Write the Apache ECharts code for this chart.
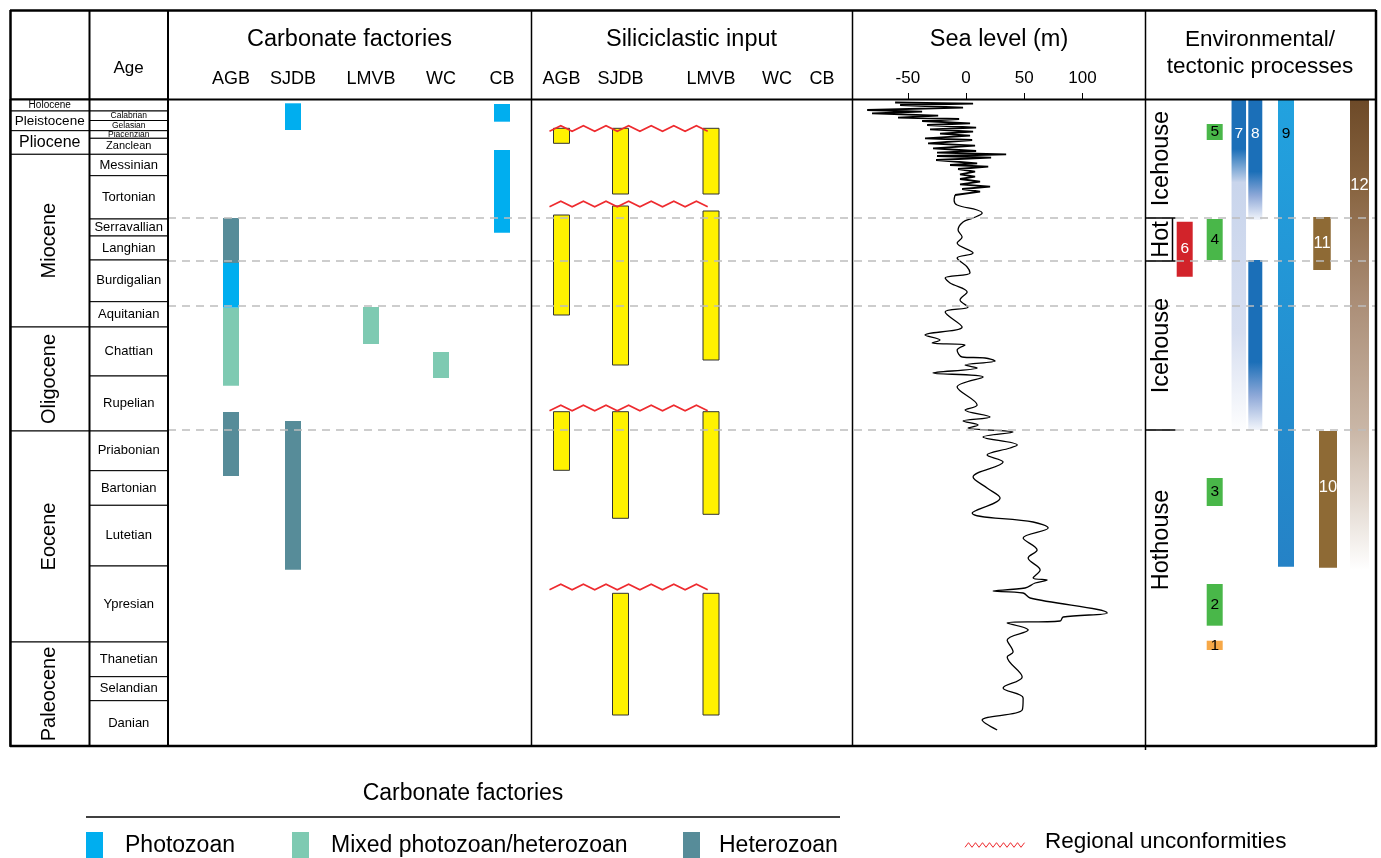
<!DOCTYPE html>
<html>
<head>
<meta charset="utf-8">
<script src="https://cdn.jsdelivr.net/npm/echarts@6/dist/echarts.min.js"></script>
<style>
  html, body { margin: 0; padding: 0; background: #fff; }
  #chart { width: 1381px; height: 858px; }
</style>
</head>
<body>
<div id="chart"></div>
<script>
/* ================================================================
   Cenozoic stratigraphic chart — carbonate factories, siliciclastics,
   sea level and environmental/tectonic processes
   Vertical axis = the figure's own (non-linear) time scale, measured
   as depth below the top of the columns (0 = present, 647 = base Danian)
   ================================================================ */

/* ===== data ===== */
const epochs = [
    ["Holocene", 0, 12], ["Pleistocene", 12, 31.7], ["Pliocene", 31.7, 55.3],
    ["Miocene", 55.3, 228], ["Oligocene", 228, 332], ["Eocene", 332, 543], ["Paleocene", 543, 647],
];
const stages = [
    ["", 0, 12], ["Calabrian", 12, 21.5], ["Gelasian", 21.5, 31.7], ["Piacenzian", 31.7, 39.3],
    ["Zanclean", 39.3, 55.3], ["Messinian", 55.3, 76.7], ["Tortonian", 76.7, 120],
    ["Serravallian", 120, 137], ["Langhian", 137, 161], ["Burdigalian", 161, 202.7],
    ["Aquitanian", 202.7, 228], ["Chattian", 228, 277], ["Rupelian", 277, 332],
    ["Priabonian", 332, 371.7], ["Bartonian", 371.7, 406.3], ["Lutetian", 406.3, 467],
    ["Ypresian", 467, 543], ["Thanetian", 543, 577.7], ["Selandian", 577.7, 601.7], ["Danian", 601.7, 647],
];
const basins = ["AGB", "SJDB", "LMVB", "WC", "CB"];
const factories = ["Photozoan", "Mixed photozoan/heterozoan", "Heterozoan"];

// [basin, factory, top, base]
const carbonate = [
    ["SJDB", "Photozoan", 4.3, 31], ["CB", "Photozoan", 5, 22.7], ["CB", "Photozoan", 51, 133.7],
    ["AGB", "Heterozoan", 119, 164], ["AGB", "Photozoan", 164, 208.7],
    ["AGB", "Mixed photozoan/heterozoan", 208.7, 286.7], ["AGB", "Heterozoan", 313, 377],
    ["SJDB", "Heterozoan", 322, 470.7],
    ["LMVB", "Mixed photozoan/heterozoan", 208, 245], ["WC", "Mixed photozoan/heterozoan", 253, 279],
];
// [basin, top, base]
const siliciclastic = [
    ["AGB", 29.3, 44.3], ["SJDB", 29.3, 95], ["LMVB", 29.3, 95],
    ["AGB", 116, 216], ["SJDB", 107, 266], ["LMVB", 112, 261],
    ["AGB", 312.7, 371.3], ["SJDB", 312.7, 419.3], ["LMVB", 312.7, 415.3],
    ["SJDB", 494.3, 616], ["LMVB", 494.3, 616],
];
const unconformities = [29.5, 105, 309, 488];
const dashedDepths = [119, 162, 207, 331];

// sea level (m): [depth, metres]
const seaLevelTicks = [-50, 0, 50, 100];
const seaLevelGlacial = [
    [3.5, -61], [4.7, 6], [6, -56.7], [8.7, -2.6], [11, -85], [12.7, -37.8], [14.3, -80.8],
    [16.7, -24], [18.7, -58.5], [20, -6], [22, -37.8], [24.3, 3.4], [26, -33.5], [28.7, 8.6],
    [30.3, -31], [32.7, 6], [34.7, -22.4], [36.7, 3.4], [39.3, -35.3], [41, 5.2], [44.3, -32.7],
    [46.7, 7.7], [49.3, -28.4], [52, 8.6], [53.7, -25], [55.3, 34.4], [57, -25], [58.7, 21.5],
    [61, -25.8], [64.3, 9.5], [66, -13.8], [67.7, 19], [70, -6.9], [72.7, 7.7], [75.3, -5.2],
    [77.7, 7.7], [80, -5.2], [82.7, 12], [85.3, -5.2], [87.7, 20.6], [90, -3.4], [92.7, 12], [96, -9.5],
];
const seaLevelOlder = [
    [96, -9.5], [101, -10.3], [106, -7.7], [111, 9.5], [114, 13.8], [119, 6], [123, -2.6],
    [131, -6.9], [138, -3.4], [144, -7.7], [154, 6], [159, -7.7], [168, 0.9], [174, 3.4],
    [179, -18], [184, -13.8], [193, 0.9], [201, -5.2], [208, 1.7], [213, -18], [228, -3.4],
    [236, -35.3], [241, -22.4], [244, -29.2], [246, -0.9], [251, -7.7], [258, -3.4], [259, 16.3],
    [262, 24.9], [266, -0.9], [269, 9.5], [274, -28.4], [278, 14.6], [288, -7.7], [306, 9.5],
    [311, -0.9], [318, 20.6], [322, -2.6], [326, 10.3], [329, 1.7], [333, 40.4], [338, 14.6],
    [346, 43.9], [349, 37.8], [356, 18], [363, 31.8], [378, 6], [389, 18], [399, 29.2],
    [414, 5.2], [423, 57.6], [429, 70.5], [439, 49], [451, 61], [459, 53.3], [471, 63.6],
    [479, 57.6], [481, 69.6], [484, 59.3], [489, 50.7], [492, 23.2], [494, 49], [499, 55],
    [514, 121.2], [518, 83.4], [522, 80.8], [524, 35.3], [531, 53.3], [541, 35.3], [553, 40.4],
    [558, 35.3], [578, 48.2], [589, 31.8], [599, 49], [611, 48.2], [621, 13.8], [631, 26.7],
];

// environmental / tectonic processes: [label, top, base]
const processes = [
    ["1", 541.7, 551], ["2", 485, 526.7], ["3", 379, 407], ["4", 120, 161], ["5", 25, 41],
    ["6", 122.7, 177.7], ["7", 0, 334], ["8", 0, 121], ["8", 161, 331], ["9", 0, 467.7],
    ["10", 332, 468.7], ["11", 118, 171], ["12", 1, 471],
];
const climate = [["Icehouse", 0, 119], ["Hot", 119, 162], ["Icehouse", 162, 331], ["Hothouse", 331, 551]];

/* ===== layout / styles ===== */
const FONT = '"Liberation Sans", Arial, Helvetica, sans-serif';
const TOP = 99, DEPTH = 647;
const panels = [[10, 89.5], [89.5, 168], [168, 531.5], [531.5, 852.5], [849.7, 1140.7], [1145.5, 1376], [168, 1376]];
const carbX = { AGB: 63, SJDB: 125, LMVB: 203, WC: 273, CB: 334 };
const siliX = { AGB: 30, SJDB: 89, LMVB: 179.5, WC: 245.5, CB: 290.5 };
const factoryColor = { "Photozoan": "#00AEEF", "Mixed photozoan/heterozoan": "#7ECAB2", "Heterozoan": "#578C99" };
const epochFont = { Holocene: 10, Pleistocene: 13.5, Pliocene: 16 };
const grad = (stops) => new echarts.graphic.LinearGradient(0, 0, 0, 1, stops.map(([o, c]) => ({ offset: o, color: c })));
const procStyle = {
    "1": { x: 69.2, w: 16, fill: "#F7A847", ink: "#000" },
    "2": { x: 69.2, w: 16, fill: "#49B749", ink: "#000" },
    "3": { x: 69.2, w: 16, fill: "#49B749", ink: "#000" },
    "4": { x: 69.2, w: 16, fill: "#49B749", ink: "#000" },
    "5": { x: 69.2, w: 16, fill: "#49B749", ink: "#000" },
    "6": { x: 39.2, w: 16, fill: "#D2232A", ink: "#fff" },
    "7": { x: 93.3, w: 14.5, ink: "#fff", labelAt: 35,
        fill: grad([[0, "#1B6FB8"], [0.15, "#1B6FB8"], [0.25, "#C9D5EC"], [0.7, "#D6DEF0"], [1, "#FFFFFF"]]) },
    "8": { x: 109.8, w: 14, ink: "#fff", labelAt: 35,
        fill: grad([[0, "#1B6FB8"], [0.6, "#1B6FB8"], [0.8, "#8FA9D8"], [1, "#F2F5FB"]]) },
    "9": { x: 140.5, w: 16, ink: "#000", labelAt: 35, fill: grad([[0, "#22A2DF"], [1, "#2582C6"]]) },
    "10": { x: 182.5, w: 18, fill: "#8E6A35", ink: "#fff", labelAt: 388 },
    "11": { x: 176.5, w: 17.5, fill: "#8E6A35", ink: "#fff" },
    "12": { x: 214, w: 19, ink: "#fff", labelAt: 86,
        fill: grad([[0, "#6D4A28"], [0.18, "#87633F"], [0.43, "#AB8E77"], [0.7, "#C9B6A6"], [0.85, "#E2D8CF"], [1, "#FFFFFF"]]) },
};

const txt = (text, size, fill, extra) => Object.assign({
    text, fontSize: size, fontFamily: FONT, fill: fill || "#000",
    textAlign: "center", textVerticalAlign: "middle", align: "center", verticalAlign: "middle",
}, extra || {});

/* ===== grids & axes ===== */
const grid = panels.map(([l, r]) => ({ left: l, width: r - l, top: TOP, height: DEPTH }));
const xAxis = panels.map(([l, r], i) => ({ gridIndex: i, type: "value", min: 0, max: r - l, show: false }));
xAxis[4] = {
    gridIndex: 4, type: "value", position: "top", min: -100, max: 150, interval: 50,
    axisLine: { show: false }, splitLine: { show: false },
    axisTick: { show: true, length: 6, lineStyle: { color: "#000", width: 1 }, customValues: seaLevelTicks },
    axisLabel: { customValues: seaLevelTicks, fontSize: 17, color: "#000", margin: 12, fontFamily: FONT },
};
const yAxis = panels.map((p, i) => ({ gridIndex: i, type: "value", inverse: true, min: 0, max: DEPTH, show: false }));

/* ===== series ===== */
function cellSeries(rows, gi, fontFor, rotated) {
    const w = panels[gi][1] - panels[gi][0];
    return {
        type: "custom", xAxisIndex: gi, yAxisIndex: gi, z: 3,
        data: rows.map(r => [r[1], r[2]]),
        renderItem(params, api) {
            const name = rows[params.dataIndex][0];
            const a = api.coord([0, api.value(0)]), b = api.coord([w, api.value(1)]);
            const h = b[1] - a[1];
            return { type: "group", children: [
                { type: "rect", shape: { x: a[0], y: a[1], width: b[0] - a[0], height: h }, style: { fill: "#fff", stroke: "#000", lineWidth: 1 } },
                { type: "text", x: (a[0] + b[0]) / 2, y: (a[1] + b[1]) / 2, rotation: rotated(name) ? Math.PI / 2 : 0,
                  style: txt(name, fontFor(name, h)) },
            ] };
        },
    };
}

const series = [
    cellSeries(epochs, 0, n => epochFont[n] || 20, n => !(n in epochFont)),
    cellSeries(stages, 1, (n, h) => (h < 12 ? 8.5 : h < 16.5 ? 11 : 13), () => false),
    {
        type: "custom", xAxisIndex: 2, yAxisIndex: 2, z: 4,
        data: carbonate.map(r => [r[2], r[3]]),
        renderItem(params, api) {
            const [basin, factory] = carbonate[params.dataIndex];
            const a = api.coord([carbX[basin], api.value(0)]), b = api.coord([carbX[basin], api.value(1)]);
            return { type: "rect", shape: { x: a[0] - 8, y: a[1], width: 16, height: b[1] - a[1] }, style: { fill: factoryColor[factory] } };
        },
    },
    {
        type: "custom", xAxisIndex: 3, yAxisIndex: 3, z: 4,
        data: siliciclastic.map(r => [r[1], r[2]]),
        renderItem(params, api) {
            const basin = siliciclastic[params.dataIndex][0];
            const a = api.coord([siliX[basin], api.value(0)]), b = api.coord([siliX[basin], api.value(1)]);
            return { type: "rect", shape: { x: a[0] - 8, y: a[1], width: 16, height: b[1] - a[1] },
                     style: { fill: "#FFF200", stroke: "#333", lineWidth: 1 } };
        },
    },
    {
        type: "custom", xAxisIndex: 3, yAxisIndex: 3, z: 5,
        data: unconformities.map(d => [0, d]),
        renderItem(params, api) {
            const a = api.coord([siliX.AGB - 12, api.value(1)]), b = api.coord([siliX.LMVB - 2, api.value(1)]);
            const pts = []; let up = false;
            for (let x = a[0]; x <= b[0] + 0.1; x += 11.3) { pts.push([x, a[1] + (up ? -2.8 : 2.8)]); up = !up; }
            return { type: "polyline", shape: { points: pts }, style: { stroke: "#EE2B2F", lineWidth: 1.6, fill: null } };
        },
    },
    {
        type: "line", xAxisIndex: 4, yAxisIndex: 4, z: 4, showSymbol: false, smooth: false,
        data: seaLevelGlacial.map(([d, m]) => [m, d]),
        lineStyle: { color: "#000", width: 1.8 },
    },
    {
        type: "line", xAxisIndex: 4, yAxisIndex: 4, z: 4, showSymbol: false, smooth: 0.35,
        data: seaLevelOlder.map(([d, m]) => [m, d]),
        lineStyle: { color: "#000", width: 1.3 },
    },
    {
        type: "custom", xAxisIndex: 5, yAxisIndex: 5, z: 4,
        data: processes.map(r => [r[1], r[2]]),
        renderItem(params, api) {
            const [label] = processes[params.dataIndex];
            const s = procStyle[label];
            const a = api.coord([s.x, api.value(0)]), b = api.coord([s.x, api.value(1)]);
            const first = processes.findIndex(p => p[0] === label) === params.dataIndex;
            const ly = s.labelAt != null ? api.coord([s.x, s.labelAt])[1] : (a[1] + b[1]) / 2;
            const kids = [{ type: "rect", shape: { x: a[0] - s.w / 2, y: a[1], width: s.w, height: b[1] - a[1] }, style: { fill: s.fill } }];
            if (first) kids.push({ type: "text", x: a[0], y: ly, style: txt(label, label.length > 1 ? 16.5 : 15.5, s.ink) });
            return { type: "group", children: kids };
        },
    },
    {
        type: "custom", xAxisIndex: 5, yAxisIndex: 5, z: 8,
        data: climate.map(r => [r[1], r[2]]),
        renderItem(params, api) {
            const [name] = climate[params.dataIndex];
            const a = api.coord([0, api.value(0)]), b = api.coord([0, api.value(1)]);
            const kids = [{ type: "text", x: a[0] + 16, y: (a[1] + b[1]) / 2, rotation: Math.PI / 2, style: txt(name, 23.5) }];
            const ls = { stroke: "#000", lineWidth: 1.5 };
            if (params.dataIndex > 0) kids.push({ type: "line", shape: { x1: a[0], y1: a[1], x2: a[0] + 30, y2: a[1] }, style: ls });
            if (name === "Hot") kids.push({ type: "line", shape: { x1: a[0] + 27, y1: a[1], x2: a[0] + 27, y2: b[1] }, style: ls });
            return { type: "group", children: kids };
        },
    },
    {
        type: "line", xAxisIndex: 6, yAxisIndex: 6, z: 6, data: [],
        markLine: {
            silent: true, symbol: ["none", "none"], label: { show: false }, animation: false,
            lineStyle: { color: "#BDBDBD", type: [8, 6], width: 1.5 },
            data: dashedDepths.map(d => ({ yAxis: d })),
        },
    },
];

/* ===== frame, headers, legend ===== */
const graphic = [];
const line = (x1, y1, x2, y2, w) => graphic.push({ type: "line", z: 50, shape: { x1, y1, x2, y2 }, style: { stroke: "#000", lineWidth: w } });
const label = (x, y, text, size, align) => graphic.push({ type: "text", z: 50, x, y,
    style: txt(text, size, "#000", align ? { textAlign: align, align } : null) });

line(10, 10.5, 1376, 10.5, 2.5); line(10, 746, 1376, 746, 2.5);
line(10.5, 10, 10.5, 747, 2.5); line(1376, 10, 1376, 747, 2.5);
line(10, 99.5, 1376, 99.5, 2);
line(89.5, 10, 89.5, 746, 2); line(168, 10, 168, 746, 2);
line(531.5, 10, 531.5, 746, 1.5); line(852.5, 10, 852.5, 746, 1.5); line(1145.5, 10, 1145.5, 750, 1.5);

label(128.5, 68, "Age", 17);
label(349.5, 40, "Carbonate factories", 23.5);
label(691.5, 40, "Siliciclastic input", 23.5);
label(999, 40, "Sea level (m)", 23.5);
label(1260, 40, "Environmental/", 22.5);
label(1260, 67, "tectonic processes", 22.5);
basins.forEach(b => { label(168 + carbX[b], 79, b, 18); label(531.5 + siliX[b], 79, b, 18); });

label(463, 794, "Carbonate factories", 23);
line(86, 817, 840, 817, 1.5);
[[86, 125], [292, 331], [683, 719]].forEach(([sx, tx], i) => {
    graphic.push({ type: "rect", z: 50, shape: { x: sx, y: 832, width: 17, height: 30 }, style: { fill: factoryColor[factories[i]] } });
    label(tx, 846, factories[i], 23, "left");
});
const zz = []; for (let x = 965, k = 0; x <= 1025; x += 3.5, k++) zz.push([x, 845 + (k % 2 ? -2.3 : 2.3)]);
graphic.push({ type: "polyline", z: 50, shape: { points: zz }, style: { stroke: "#EE2B2F", lineWidth: 1, fill: null } });
label(1045, 842, "Regional unconformities", 22.5, "left");

const chart = echarts.init(document.getElementById("chart"));
chart.setOption({ animation: false, backgroundColor: "#fff", grid, xAxis, yAxis, series, graphic });
</script>
</body>
</html>
